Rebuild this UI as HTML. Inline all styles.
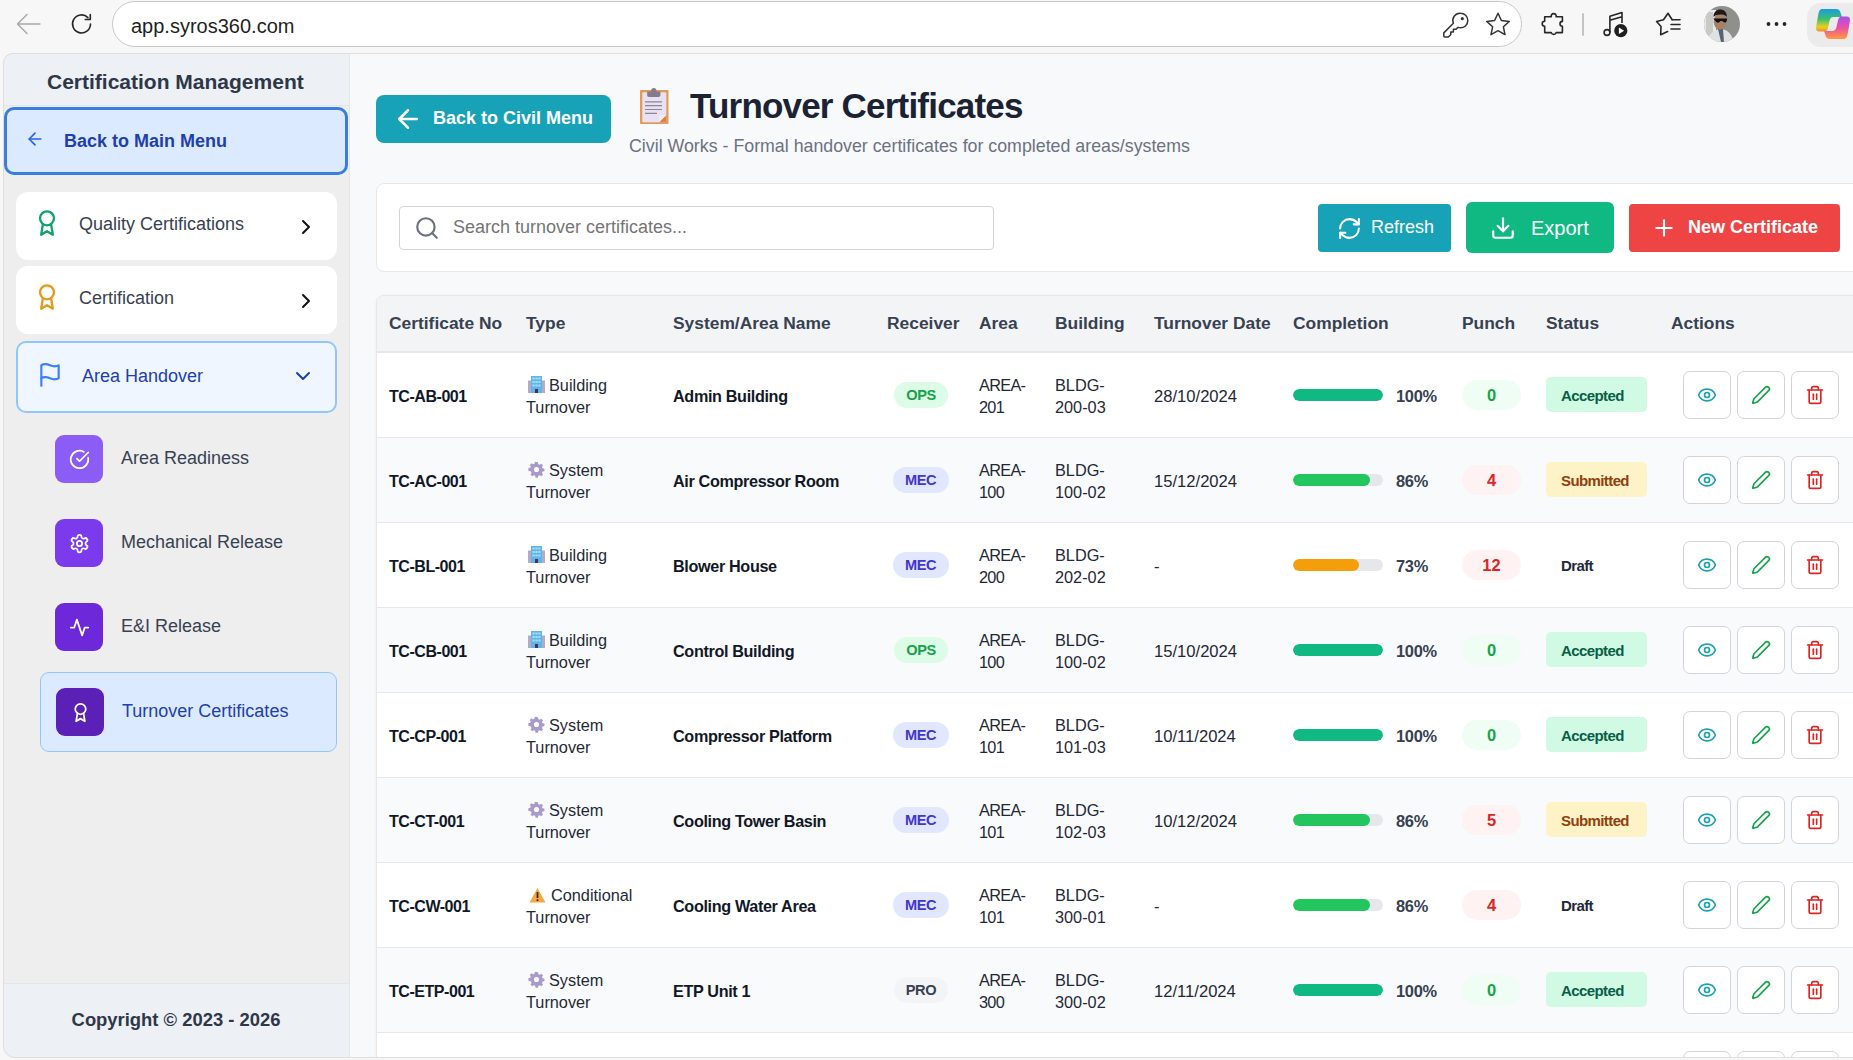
<!DOCTYPE html>
<html><head><meta charset="utf-8">
<style>
*{box-sizing:border-box;margin:0;padding:0}
html,body{width:1853px;height:1060px;overflow:hidden;background:#f7f7f7;font-family:"Liberation Sans",sans-serif;position:relative}
.abs{position:absolute}
svg{display:block}
.ico{fill:none;stroke:currentColor;stroke-width:2;stroke-linecap:round;stroke-linejoin:round}
/* chrome */
#url{left:112px;top:1px;width:1410px;height:46px;border:1px solid #c9c9c9;border-radius:23px;background:#fff}
#urltxt{left:131px;top:13.5px;font-size:20px;color:#1f1f1f;line-height:24px}
/* page */
#page{left:3px;top:53px;width:1852px;height:1005px;border-radius:10px 0 0 12px;overflow:hidden;background:#f8f9fb}
#pgb{left:3px;top:53px;width:1852px;height:1005px;border-radius:10px 0 0 12px;border:1px solid #dedede;pointer-events:none}
#side{left:0;top:0;width:347px;height:1005px;background:#eeeeee;border-right:1px solid #e3e5e8}
#sidehead{left:0;top:0;width:346px;height:53px;background:#edf0f4;border-bottom:1px solid #e2e5ea}
#sidefoot{left:0;top:930px;width:346px;height:75px;background:#edf0f4;border-top:1px solid #e2e5ea}

.stxt{font-size:18px;color:#374151;line-height:22px;white-space:nowrap;margin-top:-1px}
.card{background:#fff;border-radius:12px}
.sq{width:48px;height:48px;border-radius:9px;display:flex;align-items:center;justify-content:center;color:#fff}

.btn{position:absolute;display:flex;align-items:center;color:#fff;white-space:nowrap}
.th{position:absolute;top:0;height:55px;line-height:55px;font-size:17.4px;font-weight:700;color:#374151;white-space:nowrap}
.row{position:absolute;left:0;width:1500px;height:85px;border-bottom:1px solid #e5e7eb}
.c{position:absolute;top:1.5px;height:84px;display:flex;align-items:center;white-space:nowrap;color:#1f2937}
.cno{font-size:16px;font-weight:700;color:#111827;letter-spacing:-0.45px}
.two{font-size:16.3px;line-height:22px;white-space:normal}
.ar{letter-spacing:-0.7px}
.c.two{top:0.5px}
.nm{font-size:16.2px;font-weight:700;color:#111827;letter-spacing:-0.35px}
.pill{position:relative;top:-1.5px;display:inline-block;height:26px;line-height:27px;border-radius:13px;font-size:14.6px;letter-spacing:-0.4px;font-weight:700;text-align:center;width:54px}
.ops{background:#dcfce7;color:#16a34a}
.mec{background:#e0e7ff;color:#4338ca;width:56px;margin-left:-1px}
.pro{background:#f3f4f6;color:#374151}
.bar{top:-1.5px;width:90px;height:12px;border-radius:6px;background:#e5e7eb;position:relative;overflow:hidden}
.bar i{position:absolute;left:0;top:0;bottom:0;border-radius:6px}
.pct{font-size:16.4px;font-weight:700;color:#374151;margin-left:13px;letter-spacing:-0.3px}
.pun{position:relative;top:-1.5px;width:59px;height:30px;border-radius:15px;line-height:30px;text-align:center;font-size:16.5px;font-weight:700}
.pg{background:#f0fdf4;color:#16a34a}
.pr{background:#fef2f2;color:#dc2626}
.st{height:35px;line-height:37px;border-radius:5px;padding:0 15px;min-width:101px;position:relative;top:-2px;font-size:15px;font-weight:700;letter-spacing:-0.6px}
.acc{background:#d1fae5;color:#065f46}
.sub{background:#fef3c7;color:#92400e}
.dra{color:#1e293b}
.ab{position:absolute;top:18px;width:48px;height:48px;border:1px solid #d1d5db;border-radius:7px;background:#fff;display:flex;align-items:center;justify-content:center}
</style></head><body>
<!-- browser chrome -->
<svg class="abs" style="left:16px;top:13px" width="25" height="22" viewBox="0 0 25 22"><path d="M24 11H2M11 1.5 1.5 11 11 20.5" fill="none" stroke="#a8a8a8" stroke-width="1.4" stroke-linecap="round" stroke-linejoin="round"/></svg>
<svg class="abs" style="left:70px;top:13px" width="24" height="22" viewBox="0 0 24 22"><path d="M20.5 11a9 9 0 1 1-2.6-6.4" fill="none" stroke="#262626" stroke-width="1.6" stroke-linecap="round"/><path d="M20.3 1.5v5h-5" fill="none" stroke="#262626" stroke-width="1.6" stroke-linecap="round" stroke-linejoin="round"/></svg>
<div id="url" class="abs"></div>
<div id="urltxt" class="abs">app.syros360.com</div>
<svg class="abs" style="left:1440px;top:10px" width="32" height="30" viewBox="0 0 32 30"><g fill="none" stroke="#333" stroke-width="1.5" stroke-linecap="round" stroke-linejoin="round"><path d="M20.5 3.2a7.3 7.3 0 0 1 7.3 7.3 7.3 7.3 0 0 1-7.3 7.3c-.9 0-1.7-.15-2.5-.45L16 19.3h-2.6v2.6h-2.6v2.6L8.4 27H4.8a1 1 0 0 1-1-1v-3.1l9.6-9.6A7.3 7.3 0 0 1 20.5 3.2z"/></g><circle cx="22.3" cy="8.7" r="1.6" fill="#333"/></svg>
<svg class="abs" style="left:1484px;top:11px" width="28" height="27" viewBox="0 0 28 27"><path d="M14 2.2l3.4 7.3 7.9.9-5.9 5.4 1.6 7.8L14 19.7l-7 3.9 1.6-7.8L2.7 10.4l7.9-.9z" fill="none" stroke="#333" stroke-width="1.5" stroke-linejoin="round"/></svg>
<svg class="abs" style="left:1540px;top:10px" width="26" height="28" viewBox="0 0 26 28"><path d="M4.7 6.8H11.3A2.5 2.5 0 1 1 16.1 6.8H22.4V11.4A2.4 2.4 0 0 0 22.4 16.2V22.6H16.1A2.5 2.5 0 0 1 11.3 22.6H4.7V16.3A2.5 2.5 0 0 1 4.7 11.3Z" fill="none" stroke="#262626" stroke-width="1.6" stroke-linejoin="round"/></svg>
<div class="abs" style="left:1582px;top:13px;width:2px;height:23px;background:#c4c4c4;border-radius:1px"></div>
<svg class="abs" style="left:1600px;top:10px" width="30" height="30" viewBox="0 0 30 30"><g fill="none" stroke="#262626" stroke-width="1.6" stroke-linejoin="round"><circle cx="7" cy="22.5" r="2.9"/><path d="M9.9 22.5V6.2L22 2.6V13M9.9 10.3 22 6.7"/></g><circle cx="20.8" cy="20.7" r="6.6" fill="#1f1f1f"/><path d="M18.9 17.4v6.6l5.2-3.3z" fill="#fff"/></svg>
<svg class="abs" style="left:1650px;top:10px" width="34" height="28" viewBox="0 0 34 28"><path d="M22.2 9.7 18 3.3 13.5 9.7 6.6 11.5 11 16.5 10.7 24.8 17.6 21.6" fill="none" stroke="#262626" stroke-width="1.6" stroke-linejoin="round" stroke-linecap="round"/><path d="M22 9.7H30M21 14.5H30M21 19H30" stroke="#262626" stroke-width="1.6" stroke-linecap="round"/></svg>
<svg class="abs" style="left:1704px;top:6px" width="36" height="36" viewBox="0 0 36 36"><defs><clipPath id="av"><circle cx="18" cy="18" r="18"/></clipPath></defs><g clip-path="url(#av)"><rect width="36" height="36" fill="#8f8f8c"/><path d="M0 4H12V36H0z" fill="#e8e8e6"/><path d="M2 6H9V30H2z" fill="#c9c9c6"/><path d="M3 36C5 27 10 24 16 23c6 0 11 3 14 13z" fill="#dfe1e3"/><path d="M14 23l3 13h3l-1-13z" fill="#5c6370"/><ellipse cx="16" cy="15.5" rx="6.3" ry="8" fill="#a88068"/><path d="M9.5 11c0-5 3-7.5 6.8-7.5S23 6 22.8 11c-1.5-2-3.5-2.5-6.5-2.5s-5.3.8-6.8 2.5z" fill="#1e1a18"/><path d="M9.2 12.5h14l-.6 3c-.5 1.2-2.2 1.3-3.2.6l-1-1h-2l-1.2 1.1c-1 .8-2.8.6-3.3-.6z" fill="#111"/></g></svg>
<svg class="abs" style="left:1765px;top:20px" width="24" height="8" viewBox="0 0 24 8"><circle cx="3.5" cy="4" r="1.9" fill="#262626"/><circle cx="11.5" cy="4" r="1.9" fill="#262626"/><circle cx="19.5" cy="4" r="1.9" fill="#262626"/></svg>
<div class="abs" style="left:1807px;top:3px;width:60px;height:44px;border-radius:14px;background:#ebebeb"></div>
<svg class="abs" style="left:1814px;top:6px" width="38" height="36" viewBox="0 0 38 36"><defs><linearGradient id="cp1" x1="0" y1="0" x2="0" y2="1"><stop offset="0" stop-color="#1a9ae8"/><stop offset=".45" stop-color="#3cc06a"/><stop offset=".8" stop-color="#e8d21e"/><stop offset="1" stop-color="#f08a2a"/></linearGradient><linearGradient id="cp2" x1="0" y1="0" x2="0" y2="1"><stop offset="0" stop-color="#a84ef0"/><stop offset=".5" stop-color="#ee4fa2"/><stop offset="1" stop-color="#ff9a3c"/></linearGradient><linearGradient id="cp3" x1="0" y1="0" x2="0" y2="1"><stop offset="0" stop-color="#1555d8"/><stop offset="1" stop-color="#2a7ae8"/></linearGradient></defs><path d="M8 3H22c2.5 0 3.6 1 4.3 3L28 11H19.5c-2 0-3.2 1.2-3.8 3.2L13.8 22.5c-.6 2-1.8 3-3.8 3H5.5c-2.8 0-4-1.8-3.4-4.5L4 10c.8-4.5 1.8-7 4-7z" fill="url(#cp1)"/><path d="M30 33H16c-2.5 0-3.6-1-4.3-3L10 25h8.5c2 0 3.2-1.2 3.8-3.2l1.9-8.3c.6-2 1.8-3 3.8-3h4.5c2.8 0 4 1.8 3.4 4.5L34 26c-.8 4.5-1.8 7-4 7z" fill="url(#cp2)"/></svg>

<div id="page" class="abs">
  <div id="side" class="abs">
    <div id="sidehead" class="abs"></div>
    <div class="abs" style="left:44px;top:17px;font-size:21px;font-weight:700;color:#2d3748;line-height:24px;white-space:nowrap">Certification Management</div>
    <div class="abs" style="left:1px;top:54px;width:344px;height:68px;background:#dbeafe;border:3px solid #3b7ddd;border-radius:10px"></div>
    <svg class="abs ico" style="left:22px;top:76px;color:#2563eb" width="20" height="20" viewBox="0 0 24 24"><path d="m12 19-7-7 7-7"/><path d="M19 12H5"/></svg>
    <div class="abs" style="left:61px;top:77px;font-size:18px;font-weight:700;color:#1e40af;line-height:22px;white-space:nowrap">Back to Main Menu</div>

    <div class="abs card" style="left:13px;top:139px;width:321px;height:68px"></div>
    <svg class="abs ico" style="left:30px;top:156px;color:#10a36b" width="28" height="28" viewBox="0 0 24 24"><circle cx="12" cy="8" r="6"/><path d="M15.477 12.89 17 22l-5-3-5 3 1.523-9.11"/></svg>
    <div class="abs stxt" style="left:76px;top:161px">Quality Certifications</div>
    <svg class="abs ico" style="left:291px;top:162px;color:#111" width="24" height="24" viewBox="0 0 24 24" stroke-width="2.5"><path d="m9 18 6-6-6-6"/></svg>

    <div class="abs card" style="left:13px;top:213px;width:321px;height:68px"></div>
    <svg class="abs ico" style="left:30px;top:230px;color:#e59a1d" width="28" height="28" viewBox="0 0 24 24"><circle cx="12" cy="8" r="6"/><path d="M15.477 12.89 17 22l-5-3-5 3 1.523-9.11"/></svg>
    <div class="abs stxt" style="left:76px;top:235px">Certification</div>
    <svg class="abs ico" style="left:291px;top:236px;color:#111" width="24" height="24" viewBox="0 0 24 24" stroke-width="2.5"><path d="m9 18 6-6-6-6"/></svg>

    <div class="abs" style="left:13px;top:288px;width:321px;height:72px;background:#eff6ff;border:2px solid #93c5fd;border-radius:10px"></div>
    <svg class="abs ico" style="left:34px;top:309px;color:#3b82f6" width="26" height="26" viewBox="0 0 24 24"><path d="M4 15s1-1 4-1 5 2 8 2 4-1 4-1V3s-1 1-4 1-5-2-8-2-4 1-4 1z"/><line x1="4" x2="4" y1="22" y2="15"/></svg>
    <div class="abs stxt" style="left:79px;top:313px;color:#1e40af">Area Handover</div>
    <svg class="abs ico" style="left:288px;top:311px;color:#1e40af" width="24" height="24" viewBox="0 0 24 24"><path d="m6 9 6 6 6-6"/></svg>

    <div class="abs sq" style="left:52px;top:382px;background:linear-gradient(135deg,#8b5cf6,#8b5cf6)"><svg class="ico" width="21" height="21" viewBox="0 0 24 24"><path d="M21.801 10A10 10 0 1 1 17 3.335"/><path d="m9 11 3 3L22 4"/></svg></div>
    <div class="abs stxt" style="left:118px;top:395px">Area Readiness</div>
    <div class="abs sq" style="left:52px;top:466px;background:#7c3aed"><svg class="ico" width="21" height="21" viewBox="0 0 24 24"><path d="M12.22 2h-.44a2 2 0 0 0-2 2v.18a2 2 0 0 1-1 1.73l-.43.25a2 2 0 0 1-2 0l-.15-.08a2 2 0 0 0-2.73.73l-.22.38a2 2 0 0 0 .73 2.73l.15.1a2 2 0 0 1 1 1.72v.51a2 2 0 0 1-1 1.74l-.15.09a2 2 0 0 0-.73 2.73l.22.38a2 2 0 0 0 2.73.73l.15-.08a2 2 0 0 1 2 0l.43.25a2 2 0 0 1 1 1.73V20a2 2 0 0 0 2 2h.44a2 2 0 0 0 2-2v-.18a2 2 0 0 1 1-1.73l.43-.25a2 2 0 0 1 2 0l.15.08a2 2 0 0 0 2.73-.73l.22-.39a2 2 0 0 0-.73-2.730l-.15-.08a2 2 0 0 1-1-1.74v-.5a2 2 0 0 1 1-1.74l.15-.09a2 2 0 0 0 .73-2.73l-.22-.38a2 2 0 0 0-2.73-.73l-.15.08a2 2 0 0 1-2 0l-.43-.25a2 2 0 0 1-1-1.73V4a2 2 0 0 0-2-2z"/><circle cx="12" cy="12" r="3"/></svg></div>
    <div class="abs stxt" style="left:118px;top:479px">Mechanical Release</div>
    <div class="abs sq" style="left:52px;top:550px;background:#6d28d9"><svg class="ico" width="21" height="21" viewBox="0 0 24 24"><path d="M22 12h-4l-3 9L9 3l-3 9H2"/></svg></div>
    <div class="abs stxt" style="left:118px;top:563px">E&amp;I Release</div>

    <div class="abs" style="left:37px;top:619px;width:297px;height:80px;background:#dbeafe;border:1px solid #93c5fd;border-radius:9px"></div>
    <div class="abs sq" style="left:53px;top:635px;background:#5b21b6"><svg class="ico" width="21" height="21" viewBox="0 0 24 24"><circle cx="12" cy="8" r="6"/><path d="M15.477 12.89 17 22l-5-3-5 3 1.523-9.11"/></svg></div>
    <div class="abs stxt" style="left:119px;top:648px;color:#1e40af">Turnover Certificates</div>

    <div id="sidefoot" class="abs"></div>
    <div class="abs" style="left:0;top:955px;width:346px;text-align:center;font-size:18.4px;font-weight:700;color:#2d3748;line-height:24px;white-space:nowrap">Copyright &copy; 2023 - 2026</div>
  </div>

  <div id="main" class="abs" style="left:347px;top:0;width:1506px;height:1004px">
    <div class="btn" style="left:26px;top:42px;width:235px;height:48px;background:#17a2b8;border-radius:8px;padding-left:17px">
      <svg class="ico" width="30" height="30" viewBox="0 0 24 24" stroke-width="1.9"><path d="m12 19-7-7 7-7"/><path d="M19 12H5"/></svg>
      <span style="margin-left:10px;font-size:18px;font-weight:700;line-height:22px;position:relative;top:-1px">Back to Civil Menu</span>
    </div>
    <svg class="abs" style="left:287px;top:33px" width="34" height="40" viewBox="0 0 34 40">
      <rect x="3" y="4" width="28.5" height="34" rx="1" fill="#e39a5b"/>
      <rect x="5.3" y="6.2" width="24" height="30" rx="1" fill="#e7e1f1"/>
      <path d="M22 36.2 29.3 29V36.2z" fill="#dc8443"/>
      <path d="M22 36.2V30.5a1.5 1.5 0 0 1 1.5-1.5H29.3z" fill="#f1ecf6"/>
      <path d="M10.2 5.5h13.2v3.8a1.8 1.8 0 0 1-1.8 1.8H12a1.8 1.8 0 0 1-1.8-1.8z" fill="#857a8a"/>
      <circle cx="16.8" cy="4.6" r="2.6" fill="#857a8a"/>
      <g stroke="#8f8598" stroke-width="1.2"><path d="M8 15.8H25M8 19.6H25M8 23.5H25M8 27.4H20"/></g>
    </svg>
    <div class="abs" style="left:340px;top:32px;font-size:35px;font-weight:700;color:#1a2233;letter-spacing:-0.8px;line-height:42px;white-space:nowrap">Turnover Certificates</div>
    <div class="abs" style="left:279px;top:82px;font-size:17.8px;color:#6b7280;line-height:22px;white-space:nowrap">Civil Works - Formal handover certificates for completed areas/systems</div>

    <!-- search card -->
    <div class="abs" style="left:26px;top:130px;width:1500px;height:89px;background:#fff;border:1px solid #e5e7eb;border-radius:8px"></div>
    <div class="abs" style="left:49px;top:153px;width:595px;height:44px;background:#fff;border:1px solid #d1d5db;border-radius:4px"></div>
    <svg class="abs ico" style="left:64px;top:162px;color:#6b7280" width="26" height="26" viewBox="0 0 24 24" stroke-width="1.9"><circle cx="11" cy="11" r="8"/><path d="m21 21-4.3-4.3"/></svg>
    <div class="abs" style="left:103px;top:163px;font-size:18px;color:#757575;line-height:22px;white-space:nowrap">Search turnover certificates...</div>

    <div class="btn" style="left:968px;top:151px;width:133px;height:48px;background:#17a2b8;border-radius:4px;padding-left:19px">
      <svg class="ico" width="25" height="25" viewBox="0 0 24 24"><path d="M3 12a9 9 0 0 1 9-9 9.75 9.75 0 0 1 6.74 2.74L21 8"/><path d="M21 3v5h-5"/><path d="M21 12a9 9 0 0 1-9 9 9.75 9.75 0 0 1-6.74-2.74L3 16"/><path d="M8 16H3v5"/></svg>
      <span style="margin-left:9px;font-size:18px;line-height:22px;position:relative;top:-1px">Refresh</span>
    </div>
    <div class="btn" style="left:1116px;top:149px;width:148px;height:51px;background:#10b981;border-radius:6px;padding-left:24px">
      <svg class="ico" width="26" height="26" viewBox="0 0 24 24"><path d="M21 15v4a2 2 0 0 1-2 2H5a2 2 0 0 1-2-2v-4"/><polyline points="7 10 12 15 17 10"/><line x1="12" x2="12" y1="15" y2="3"/></svg>
      <span style="margin-left:15px;font-size:20px;line-height:24px">Export</span>
    </div>
    <div class="btn" style="left:1279px;top:151px;width:211px;height:48px;background:#ef4444;border-radius:4px;padding-left:22px">
      <svg class="ico" width="26" height="26" viewBox="0 0 24 24"><path d="M5 12h14"/><path d="M12 5v14"/></svg>
      <span style="margin-left:11px;font-size:18px;font-weight:700;line-height:22px;position:relative;top:-1px">New Certificate</span>
    </div>

    <!-- table -->
    <div class="abs" style="left:26px;top:242px;width:1500px;height:800px;background:#fff;border:1px solid #e5e7eb;border-radius:8px;overflow:hidden;box-shadow:0 1px 3px rgba(0,0,0,0.06)">
      <div class="abs" style="left:0;top:0;width:1500px;height:57px;background:#f3f4f6;border-bottom:2px solid #e5e7eb">
        <div class="th" style="left:12px">Certificate No</div>
        <div class="th" style="left:149px">Type</div>
        <div class="th" style="left:296px">System/Area Name</div>
        <div class="th" style="left:510px">Receiver</div>
        <div class="th" style="left:602px">Area</div>
        <div class="th" style="left:678px">Building</div>
        <div class="th" style="left:777px">Turnover Date</div>
        <div class="th" style="left:916px">Completion</div>
        <div class="th" style="left:1085px">Punch</div>
        <div class="th" style="left:1169px">Status</div>
        <div class="th" style="left:1294px">Actions</div>
      </div>
      <div class="row" style="top:57px;background:#fff">
<div class="c cno" style="left:12px">TC-AB-001</div>
<div class="c two" style="left:149px;width:140px"><div><svg width="17" height="17" viewBox="0 0 17 17" style="display:inline-block;vertical-align:-2px;margin:0 4px 0 2px"><rect x="0" y="4.5" width="17" height="12.5" fill="#b5aac6"/><rect x="3" y="0" width="11" height="17" fill="#5fb4e8"/><g fill="#a5def6"><rect x="4.5" y="1.5" width="2.2" height="2"/><rect x="7.4" y="1.5" width="2.2" height="2"/><rect x="10.3" y="1.5" width="2.2" height="2"/><rect x="4.5" y="5" width="2.2" height="2"/><rect x="7.4" y="5" width="2.2" height="2"/><rect x="10.3" y="5" width="2.2" height="2"/><rect x="4.5" y="8.5" width="2.2" height="2"/><rect x="7.4" y="8.5" width="2.2" height="2"/><rect x="10.3" y="8.5" width="2.2" height="2"/></g><rect x="7" y="13" width="3" height="4" fill="#3f3560"/></svg>Building<br>Turnover</div></div>
<div class="c nm" style="left:296px">Admin Building</div>
<div class="c" style="left:498px;width:92px;justify-content:center"><span class="pill ops">OPS</span></div>
<div class="c two ar" style="left:602px"><div>AREA-<br>201</div></div>
<div class="c two" style="left:678px"><div>BLDG-<br>200-03</div></div>
<div class="c" style="left:777px;font-size:16.6px">28/10/2024</div>
<div class="c" style="left:916px"><div class="bar"><i style="width:100%;background:#10b981"></i></div><span class="pct">100%</span></div>
<div class="c" style="left:1085px"><div class="pun pg">0</div></div>
<div class="c" style="left:1169px"><div class="st acc">Accepted</div></div>
<div class="ab" style="left:1306px"><svg class="ico" style="color:#1a9fb5" width="20" height="20" viewBox="0 0 24 24"><path d="M2.062 12.348a1 1 0 0 1 0-.696 10.75 10.75 0 0 1 19.876 0 1 1 0 0 1 0 .696 10.75 10.75 0 0 1-19.876 0"/><circle cx="12" cy="12" r="3"/></svg></div><div class="ab" style="left:1360px"><svg class="ico" style="color:#16a34a" width="20" height="20" viewBox="0 0 24 24"><path d="M21.174 6.812a1 1 0 0 0-3.986-3.987L3.842 16.174a2 2 0 0 0-.5.83l-1.321 4.352a.5.5 0 0 0 .623.622l4.353-1.32a2 2 0 0 0 .83-.497z"/></svg></div><div class="ab" style="left:1414px"><svg class="ico" style="color:#dc2626" width="20" height="20" viewBox="0 0 24 24"><path d="M3 6h18"/><path d="M19 6v14c0 1-1 2-2 2H7c-1 0-2-1-2-2V6"/><path d="M8 6V4c0-1 1-2 2-2h4c1 0 2 1 2 2v2"/><line x1="10" x2="10" y1="11" y2="17"/><line x1="14" x2="14" y1="11" y2="17"/></svg></div>
</div>
<div class="row" style="top:142px;background:#f9fafb">
<div class="c cno" style="left:12px">TC-AC-001</div>
<div class="c two" style="left:149px;width:140px"><div><svg width="17" height="17" viewBox="0 0 24 24" style="display:inline-block;vertical-align:-2px;margin:0 4px 0 2px"><path fill="#a99bc9" d="M12 1.5l2 .3.6 2.7 1.9.8 2.3-1.5 2.4 2.4-1.5 2.3.8 1.9 2.7.6v3.3l-2.7.6-.8 1.9 1.5 2.3-2.4 2.4-2.3-1.5-1.9.8-.6 2.7h-3.3l-.6-2.7-1.9-.8-2.3 1.5-2.4-2.4 1.5-2.3-.8-1.9L.5 13.6v-3.3l2.7-.6.8-1.9-1.5-2.3 2.4-2.4 2.3 1.5 1.9-.8.6-2.7z"/><circle cx="12" cy="12" r="3.6" fill="#fff"/></svg>System<br>Turnover</div></div>
<div class="c nm" style="left:296px">Air Compressor Room</div>
<div class="c" style="left:498px;width:92px;justify-content:center"><span class="pill mec">MEC</span></div>
<div class="c two ar" style="left:602px"><div>AREA-<br>100</div></div>
<div class="c two" style="left:678px"><div>BLDG-<br>100-02</div></div>
<div class="c" style="left:777px;font-size:16.6px">15/12/2024</div>
<div class="c" style="left:916px"><div class="bar"><i style="width:86%;background:#22c55e"></i></div><span class="pct">86%</span></div>
<div class="c" style="left:1085px"><div class="pun pr">4</div></div>
<div class="c" style="left:1169px"><div class="st sub">Submitted</div></div>
<div class="ab" style="left:1306px"><svg class="ico" style="color:#1a9fb5" width="20" height="20" viewBox="0 0 24 24"><path d="M2.062 12.348a1 1 0 0 1 0-.696 10.75 10.75 0 0 1 19.876 0 1 1 0 0 1 0 .696 10.75 10.75 0 0 1-19.876 0"/><circle cx="12" cy="12" r="3"/></svg></div><div class="ab" style="left:1360px"><svg class="ico" style="color:#16a34a" width="20" height="20" viewBox="0 0 24 24"><path d="M21.174 6.812a1 1 0 0 0-3.986-3.987L3.842 16.174a2 2 0 0 0-.5.83l-1.321 4.352a.5.5 0 0 0 .623.622l4.353-1.32a2 2 0 0 0 .83-.497z"/></svg></div><div class="ab" style="left:1414px"><svg class="ico" style="color:#dc2626" width="20" height="20" viewBox="0 0 24 24"><path d="M3 6h18"/><path d="M19 6v14c0 1-1 2-2 2H7c-1 0-2-1-2-2V6"/><path d="M8 6V4c0-1 1-2 2-2h4c1 0 2 1 2 2v2"/><line x1="10" x2="10" y1="11" y2="17"/><line x1="14" x2="14" y1="11" y2="17"/></svg></div>
</div>
<div class="row" style="top:227px;background:#fff">
<div class="c cno" style="left:12px">TC-BL-001</div>
<div class="c two" style="left:149px;width:140px"><div><svg width="17" height="17" viewBox="0 0 17 17" style="display:inline-block;vertical-align:-2px;margin:0 4px 0 2px"><rect x="0" y="4.5" width="17" height="12.5" fill="#b5aac6"/><rect x="3" y="0" width="11" height="17" fill="#5fb4e8"/><g fill="#a5def6"><rect x="4.5" y="1.5" width="2.2" height="2"/><rect x="7.4" y="1.5" width="2.2" height="2"/><rect x="10.3" y="1.5" width="2.2" height="2"/><rect x="4.5" y="5" width="2.2" height="2"/><rect x="7.4" y="5" width="2.2" height="2"/><rect x="10.3" y="5" width="2.2" height="2"/><rect x="4.5" y="8.5" width="2.2" height="2"/><rect x="7.4" y="8.5" width="2.2" height="2"/><rect x="10.3" y="8.5" width="2.2" height="2"/></g><rect x="7" y="13" width="3" height="4" fill="#3f3560"/></svg>Building<br>Turnover</div></div>
<div class="c nm" style="left:296px">Blower House</div>
<div class="c" style="left:498px;width:92px;justify-content:center"><span class="pill mec">MEC</span></div>
<div class="c two ar" style="left:602px"><div>AREA-<br>200</div></div>
<div class="c two" style="left:678px"><div>BLDG-<br>202-02</div></div>
<div class="c" style="left:777px;font-size:16.6px">-</div>
<div class="c" style="left:916px"><div class="bar"><i style="width:73%;background:#f59e0b"></i></div><span class="pct">73%</span></div>
<div class="c" style="left:1085px"><div class="pun pr">12</div></div>
<div class="c" style="left:1169px"><div class="st dra">Draft</div></div>
<div class="ab" style="left:1306px"><svg class="ico" style="color:#1a9fb5" width="20" height="20" viewBox="0 0 24 24"><path d="M2.062 12.348a1 1 0 0 1 0-.696 10.75 10.75 0 0 1 19.876 0 1 1 0 0 1 0 .696 10.75 10.75 0 0 1-19.876 0"/><circle cx="12" cy="12" r="3"/></svg></div><div class="ab" style="left:1360px"><svg class="ico" style="color:#16a34a" width="20" height="20" viewBox="0 0 24 24"><path d="M21.174 6.812a1 1 0 0 0-3.986-3.987L3.842 16.174a2 2 0 0 0-.5.83l-1.321 4.352a.5.5 0 0 0 .623.622l4.353-1.32a2 2 0 0 0 .83-.497z"/></svg></div><div class="ab" style="left:1414px"><svg class="ico" style="color:#dc2626" width="20" height="20" viewBox="0 0 24 24"><path d="M3 6h18"/><path d="M19 6v14c0 1-1 2-2 2H7c-1 0-2-1-2-2V6"/><path d="M8 6V4c0-1 1-2 2-2h4c1 0 2 1 2 2v2"/><line x1="10" x2="10" y1="11" y2="17"/><line x1="14" x2="14" y1="11" y2="17"/></svg></div>
</div>
<div class="row" style="top:312px;background:#f9fafb">
<div class="c cno" style="left:12px">TC-CB-001</div>
<div class="c two" style="left:149px;width:140px"><div><svg width="17" height="17" viewBox="0 0 17 17" style="display:inline-block;vertical-align:-2px;margin:0 4px 0 2px"><rect x="0" y="4.5" width="17" height="12.5" fill="#b5aac6"/><rect x="3" y="0" width="11" height="17" fill="#5fb4e8"/><g fill="#a5def6"><rect x="4.5" y="1.5" width="2.2" height="2"/><rect x="7.4" y="1.5" width="2.2" height="2"/><rect x="10.3" y="1.5" width="2.2" height="2"/><rect x="4.5" y="5" width="2.2" height="2"/><rect x="7.4" y="5" width="2.2" height="2"/><rect x="10.3" y="5" width="2.2" height="2"/><rect x="4.5" y="8.5" width="2.2" height="2"/><rect x="7.4" y="8.5" width="2.2" height="2"/><rect x="10.3" y="8.5" width="2.2" height="2"/></g><rect x="7" y="13" width="3" height="4" fill="#3f3560"/></svg>Building<br>Turnover</div></div>
<div class="c nm" style="left:296px">Control Building</div>
<div class="c" style="left:498px;width:92px;justify-content:center"><span class="pill ops">OPS</span></div>
<div class="c two ar" style="left:602px"><div>AREA-<br>100</div></div>
<div class="c two" style="left:678px"><div>BLDG-<br>100-02</div></div>
<div class="c" style="left:777px;font-size:16.6px">15/10/2024</div>
<div class="c" style="left:916px"><div class="bar"><i style="width:100%;background:#10b981"></i></div><span class="pct">100%</span></div>
<div class="c" style="left:1085px"><div class="pun pg">0</div></div>
<div class="c" style="left:1169px"><div class="st acc">Accepted</div></div>
<div class="ab" style="left:1306px"><svg class="ico" style="color:#1a9fb5" width="20" height="20" viewBox="0 0 24 24"><path d="M2.062 12.348a1 1 0 0 1 0-.696 10.75 10.75 0 0 1 19.876 0 1 1 0 0 1 0 .696 10.75 10.75 0 0 1-19.876 0"/><circle cx="12" cy="12" r="3"/></svg></div><div class="ab" style="left:1360px"><svg class="ico" style="color:#16a34a" width="20" height="20" viewBox="0 0 24 24"><path d="M21.174 6.812a1 1 0 0 0-3.986-3.987L3.842 16.174a2 2 0 0 0-.5.83l-1.321 4.352a.5.5 0 0 0 .623.622l4.353-1.32a2 2 0 0 0 .83-.497z"/></svg></div><div class="ab" style="left:1414px"><svg class="ico" style="color:#dc2626" width="20" height="20" viewBox="0 0 24 24"><path d="M3 6h18"/><path d="M19 6v14c0 1-1 2-2 2H7c-1 0-2-1-2-2V6"/><path d="M8 6V4c0-1 1-2 2-2h4c1 0 2 1 2 2v2"/><line x1="10" x2="10" y1="11" y2="17"/><line x1="14" x2="14" y1="11" y2="17"/></svg></div>
</div>
<div class="row" style="top:397px;background:#fff">
<div class="c cno" style="left:12px">TC-CP-001</div>
<div class="c two" style="left:149px;width:140px"><div><svg width="17" height="17" viewBox="0 0 24 24" style="display:inline-block;vertical-align:-2px;margin:0 4px 0 2px"><path fill="#a99bc9" d="M12 1.5l2 .3.6 2.7 1.9.8 2.3-1.5 2.4 2.4-1.5 2.3.8 1.9 2.7.6v3.3l-2.7.6-.8 1.9 1.5 2.3-2.4 2.4-2.3-1.5-1.9.8-.6 2.7h-3.3l-.6-2.7-1.9-.8-2.3 1.5-2.4-2.4 1.5-2.3-.8-1.9L.5 13.6v-3.3l2.7-.6.8-1.9-1.5-2.3 2.4-2.4 2.3 1.5 1.9-.8.6-2.7z"/><circle cx="12" cy="12" r="3.6" fill="#fff"/></svg>System<br>Turnover</div></div>
<div class="c nm" style="left:296px">Compressor Platform</div>
<div class="c" style="left:498px;width:92px;justify-content:center"><span class="pill mec">MEC</span></div>
<div class="c two ar" style="left:602px"><div>AREA-<br>101</div></div>
<div class="c two" style="left:678px"><div>BLDG-<br>101-03</div></div>
<div class="c" style="left:777px;font-size:16.6px">10/11/2024</div>
<div class="c" style="left:916px"><div class="bar"><i style="width:100%;background:#10b981"></i></div><span class="pct">100%</span></div>
<div class="c" style="left:1085px"><div class="pun pg">0</div></div>
<div class="c" style="left:1169px"><div class="st acc">Accepted</div></div>
<div class="ab" style="left:1306px"><svg class="ico" style="color:#1a9fb5" width="20" height="20" viewBox="0 0 24 24"><path d="M2.062 12.348a1 1 0 0 1 0-.696 10.75 10.75 0 0 1 19.876 0 1 1 0 0 1 0 .696 10.75 10.75 0 0 1-19.876 0"/><circle cx="12" cy="12" r="3"/></svg></div><div class="ab" style="left:1360px"><svg class="ico" style="color:#16a34a" width="20" height="20" viewBox="0 0 24 24"><path d="M21.174 6.812a1 1 0 0 0-3.986-3.987L3.842 16.174a2 2 0 0 0-.5.83l-1.321 4.352a.5.5 0 0 0 .623.622l4.353-1.32a2 2 0 0 0 .83-.497z"/></svg></div><div class="ab" style="left:1414px"><svg class="ico" style="color:#dc2626" width="20" height="20" viewBox="0 0 24 24"><path d="M3 6h18"/><path d="M19 6v14c0 1-1 2-2 2H7c-1 0-2-1-2-2V6"/><path d="M8 6V4c0-1 1-2 2-2h4c1 0 2 1 2 2v2"/><line x1="10" x2="10" y1="11" y2="17"/><line x1="14" x2="14" y1="11" y2="17"/></svg></div>
</div>
<div class="row" style="top:482px;background:#f9fafb">
<div class="c cno" style="left:12px">TC-CT-001</div>
<div class="c two" style="left:149px;width:140px"><div><svg width="17" height="17" viewBox="0 0 24 24" style="display:inline-block;vertical-align:-2px;margin:0 4px 0 2px"><path fill="#a99bc9" d="M12 1.5l2 .3.6 2.7 1.9.8 2.3-1.5 2.4 2.4-1.5 2.3.8 1.9 2.7.6v3.3l-2.7.6-.8 1.9 1.5 2.3-2.4 2.4-2.3-1.5-1.9.8-.6 2.7h-3.3l-.6-2.7-1.9-.8-2.3 1.5-2.4-2.4 1.5-2.3-.8-1.9L.5 13.6v-3.3l2.7-.6.8-1.9-1.5-2.3 2.4-2.4 2.3 1.5 1.9-.8.6-2.7z"/><circle cx="12" cy="12" r="3.6" fill="#fff"/></svg>System<br>Turnover</div></div>
<div class="c nm" style="left:296px">Cooling Tower Basin</div>
<div class="c" style="left:498px;width:92px;justify-content:center"><span class="pill mec">MEC</span></div>
<div class="c two ar" style="left:602px"><div>AREA-<br>101</div></div>
<div class="c two" style="left:678px"><div>BLDG-<br>102-03</div></div>
<div class="c" style="left:777px;font-size:16.6px">10/12/2024</div>
<div class="c" style="left:916px"><div class="bar"><i style="width:86%;background:#22c55e"></i></div><span class="pct">86%</span></div>
<div class="c" style="left:1085px"><div class="pun pr">5</div></div>
<div class="c" style="left:1169px"><div class="st sub">Submitted</div></div>
<div class="ab" style="left:1306px"><svg class="ico" style="color:#1a9fb5" width="20" height="20" viewBox="0 0 24 24"><path d="M2.062 12.348a1 1 0 0 1 0-.696 10.75 10.75 0 0 1 19.876 0 1 1 0 0 1 0 .696 10.75 10.75 0 0 1-19.876 0"/><circle cx="12" cy="12" r="3"/></svg></div><div class="ab" style="left:1360px"><svg class="ico" style="color:#16a34a" width="20" height="20" viewBox="0 0 24 24"><path d="M21.174 6.812a1 1 0 0 0-3.986-3.987L3.842 16.174a2 2 0 0 0-.5.83l-1.321 4.352a.5.5 0 0 0 .623.622l4.353-1.32a2 2 0 0 0 .83-.497z"/></svg></div><div class="ab" style="left:1414px"><svg class="ico" style="color:#dc2626" width="20" height="20" viewBox="0 0 24 24"><path d="M3 6h18"/><path d="M19 6v14c0 1-1 2-2 2H7c-1 0-2-1-2-2V6"/><path d="M8 6V4c0-1 1-2 2-2h4c1 0 2 1 2 2v2"/><line x1="10" x2="10" y1="11" y2="17"/><line x1="14" x2="14" y1="11" y2="17"/></svg></div>
</div>
<div class="row" style="top:567px;background:#fff">
<div class="c cno" style="left:12px">TC-CW-001</div>
<div class="c two" style="left:149px;width:140px"><div><svg width="17" height="16" viewBox="0 0 17 16" style="display:inline-block;vertical-align:-2px;margin:0 5px 0 3px"><path d="M8.5 1 16.5 15.5H.5z" fill="#f5a742"/><rect x="7.6" y="5" width="1.8" height="6" fill="#3b2a1a"/><rect x="7.6" y="12.3" width="1.8" height="1.8" fill="#3b2a1a"/></svg>Conditional<br>Turnover</div></div>
<div class="c nm" style="left:296px">Cooling Water Area</div>
<div class="c" style="left:498px;width:92px;justify-content:center"><span class="pill mec">MEC</span></div>
<div class="c two ar" style="left:602px"><div>AREA-<br>101</div></div>
<div class="c two" style="left:678px"><div>BLDG-<br>300-01</div></div>
<div class="c" style="left:777px;font-size:16.6px">-</div>
<div class="c" style="left:916px"><div class="bar"><i style="width:86%;background:#22c55e"></i></div><span class="pct">86%</span></div>
<div class="c" style="left:1085px"><div class="pun pr">4</div></div>
<div class="c" style="left:1169px"><div class="st dra">Draft</div></div>
<div class="ab" style="left:1306px"><svg class="ico" style="color:#1a9fb5" width="20" height="20" viewBox="0 0 24 24"><path d="M2.062 12.348a1 1 0 0 1 0-.696 10.75 10.75 0 0 1 19.876 0 1 1 0 0 1 0 .696 10.75 10.75 0 0 1-19.876 0"/><circle cx="12" cy="12" r="3"/></svg></div><div class="ab" style="left:1360px"><svg class="ico" style="color:#16a34a" width="20" height="20" viewBox="0 0 24 24"><path d="M21.174 6.812a1 1 0 0 0-3.986-3.987L3.842 16.174a2 2 0 0 0-.5.83l-1.321 4.352a.5.5 0 0 0 .623.622l4.353-1.32a2 2 0 0 0 .83-.497z"/></svg></div><div class="ab" style="left:1414px"><svg class="ico" style="color:#dc2626" width="20" height="20" viewBox="0 0 24 24"><path d="M3 6h18"/><path d="M19 6v14c0 1-1 2-2 2H7c-1 0-2-1-2-2V6"/><path d="M8 6V4c0-1 1-2 2-2h4c1 0 2 1 2 2v2"/><line x1="10" x2="10" y1="11" y2="17"/><line x1="14" x2="14" y1="11" y2="17"/></svg></div>
</div>
<div class="row" style="top:652px;background:#f9fafb">
<div class="c cno" style="left:12px">TC-ETP-001</div>
<div class="c two" style="left:149px;width:140px"><div><svg width="17" height="17" viewBox="0 0 24 24" style="display:inline-block;vertical-align:-2px;margin:0 4px 0 2px"><path fill="#a99bc9" d="M12 1.5l2 .3.6 2.7 1.9.8 2.3-1.5 2.4 2.4-1.5 2.3.8 1.9 2.7.6v3.3l-2.7.6-.8 1.9 1.5 2.3-2.4 2.4-2.3-1.5-1.9.8-.6 2.7h-3.3l-.6-2.7-1.9-.8-2.3 1.5-2.4-2.4 1.5-2.3-.8-1.9L.5 13.6v-3.3l2.7-.6.8-1.9-1.5-2.3 2.4-2.4 2.3 1.5 1.9-.8.6-2.7z"/><circle cx="12" cy="12" r="3.6" fill="#fff"/></svg>System<br>Turnover</div></div>
<div class="c nm" style="left:296px">ETP Unit 1</div>
<div class="c" style="left:498px;width:92px;justify-content:center"><span class="pill pro">PRO</span></div>
<div class="c two ar" style="left:602px"><div>AREA-<br>300</div></div>
<div class="c two" style="left:678px"><div>BLDG-<br>300-02</div></div>
<div class="c" style="left:777px;font-size:16.6px">12/11/2024</div>
<div class="c" style="left:916px"><div class="bar"><i style="width:100%;background:#10b981"></i></div><span class="pct">100%</span></div>
<div class="c" style="left:1085px"><div class="pun pg">0</div></div>
<div class="c" style="left:1169px"><div class="st acc">Accepted</div></div>
<div class="ab" style="left:1306px"><svg class="ico" style="color:#1a9fb5" width="20" height="20" viewBox="0 0 24 24"><path d="M2.062 12.348a1 1 0 0 1 0-.696 10.75 10.75 0 0 1 19.876 0 1 1 0 0 1 0 .696 10.75 10.75 0 0 1-19.876 0"/><circle cx="12" cy="12" r="3"/></svg></div><div class="ab" style="left:1360px"><svg class="ico" style="color:#16a34a" width="20" height="20" viewBox="0 0 24 24"><path d="M21.174 6.812a1 1 0 0 0-3.986-3.987L3.842 16.174a2 2 0 0 0-.5.83l-1.321 4.352a.5.5 0 0 0 .623.622l4.353-1.32a2 2 0 0 0 .83-.497z"/></svg></div><div class="ab" style="left:1414px"><svg class="ico" style="color:#dc2626" width="20" height="20" viewBox="0 0 24 24"><path d="M3 6h18"/><path d="M19 6v14c0 1-1 2-2 2H7c-1 0-2-1-2-2V6"/><path d="M8 6V4c0-1 1-2 2-2h4c1 0 2 1 2 2v2"/><line x1="10" x2="10" y1="11" y2="17"/><line x1="14" x2="14" y1="11" y2="17"/></svg></div>
</div>
<div class="row" style="top:737px;background:#fff"><div class="ab" style="left:1306px"><svg class="ico" style="color:#1a9fb5" width="20" height="20" viewBox="0 0 24 24"><path d="M2.062 12.348a1 1 0 0 1 0-.696 10.75 10.75 0 0 1 19.876 0 1 1 0 0 1 0 .696 10.75 10.75 0 0 1-19.876 0"/><circle cx="12" cy="12" r="3"/></svg></div><div class="ab" style="left:1360px"><svg class="ico" style="color:#16a34a" width="20" height="20" viewBox="0 0 24 24"><path d="M21.174 6.812a1 1 0 0 0-3.986-3.987L3.842 16.174a2 2 0 0 0-.5.83l-1.321 4.352a.5.5 0 0 0 .623.622l4.353-1.32a2 2 0 0 0 .83-.497z"/></svg></div><div class="ab" style="left:1414px"><svg class="ico" style="color:#dc2626" width="20" height="20" viewBox="0 0 24 24"><path d="M3 6h18"/><path d="M19 6v14c0 1-1 2-2 2H7c-1 0-2-1-2-2V6"/><path d="M8 6V4c0-1 1-2 2-2h4c1 0 2 1 2 2v2"/><line x1="10" x2="10" y1="11" y2="17"/><line x1="14" x2="14" y1="11" y2="17"/></svg></div></div>
    </div>
  </div>

</div>
<div id="pgb" class="abs"></div>
</body></html>
